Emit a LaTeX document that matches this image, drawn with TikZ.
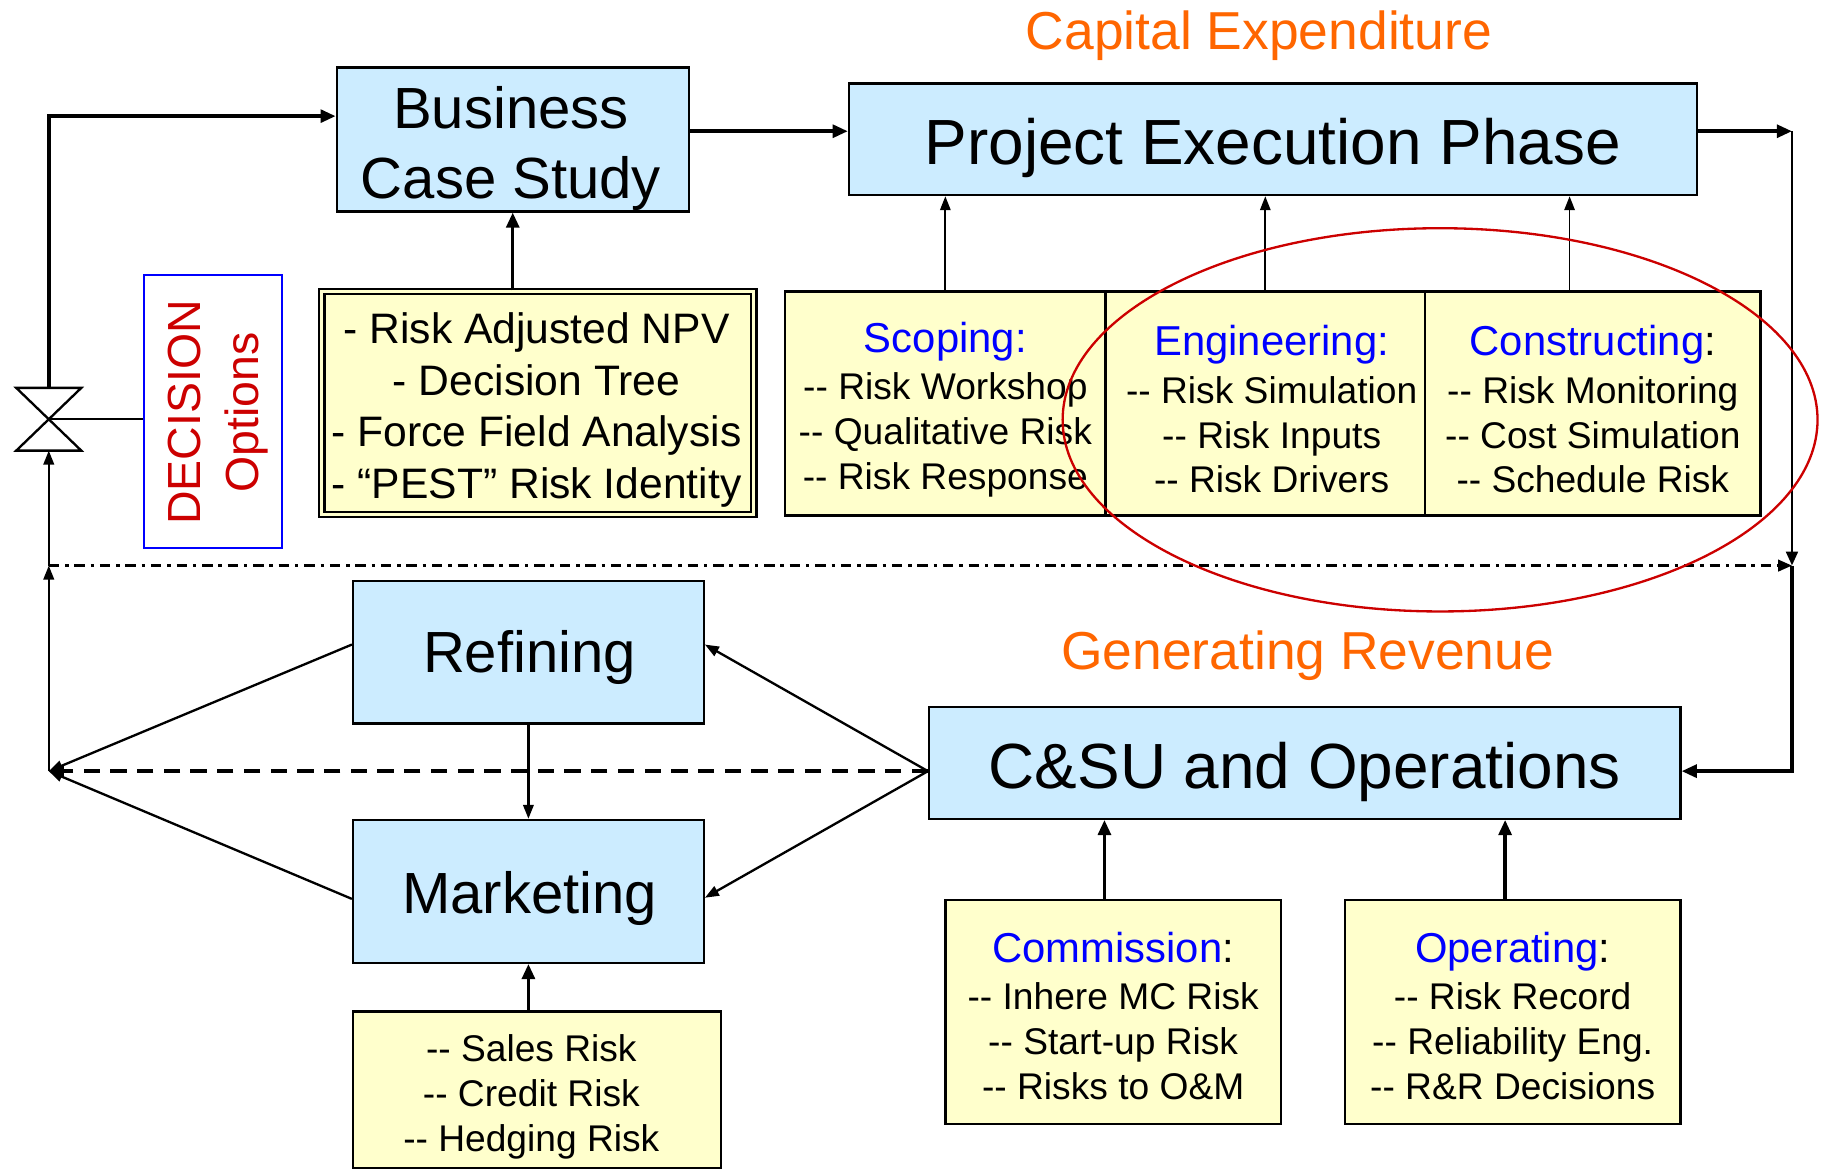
\documentclass[tikz,border=0pt]{standalone}
\usepackage{fontspec}
\setmainfont{Liberation Sans}
\usetikzlibrary{arrows.meta}
\definecolor{boxblue}{HTML}{CCECFF}
\definecolor{boxyellow}{HTML}{FFFFCC}
\definecolor{orng}{HTML}{FF6600}
\definecolor{hdrblue}{HTML}{0000FF}
\definecolor{dred}{HTML}{CC0000}
\newcommand\setfs[2]{\fontsize{#1pt}{#2pt}\selectfont}
\newcommand\mydd{-\kern0pt-}
\begin{document}
\begin{tikzpicture}[x=1pt,y=-1pt,
  bluebox/.style={draw=black, line width=2pt, fill=boxblue, inner sep=0pt},
  yelbox/.style={draw=black, line width=2pt, fill=boxyellow, inner sep=0pt},
  txt/.style={inner sep=0pt, align=center},
  thickarr/.style={line width=3pt, -{Triangle[length=13pt,width=11pt]}},
  medarr/.style={line width=2pt, -{Triangle[length=12pt,width=9pt]}},
  thinarr/.style={line width=1.5pt, -{Triangle[length=12pt,width=9pt]}},
  hdr/.style={text=orng, inner sep=0pt, font=\setfs{46}{52}},
]
\useasboundingbox (0,0) rectangle (1568,1009);
\fill[white] (0,0) rectangle (1568,1009);

% titles
\node[hdr] (capex) at (1084,31) {Capital Expenditure};
\node[hdr] (genrev) at (1126,565) {Generating Revenue};

% blue boxes
\node[bluebox, minimum width=303pt, minimum height=124pt] (bcs) at (441.5,120) {};
\node[txt, font=\setfs{50}{60}] (bcst) at (440,128) {Business\\Case Study};
\node[bluebox, minimum width=730pt, minimum height=96pt] (pep) at (1096,120) {};
\node[txt, font=\setfs{55}{66}] (pept) at (1096,127) {Project Execution Phase};
\node[bluebox, minimum width=302pt, minimum height=123pt] (ref) at (455,561.5) {};
\node[txt, font=\setfs{50}{60}] (reft) at (456,566.5) {Refining};
\node[bluebox, minimum width=302pt, minimum height=123pt] (mkt) at (455,767.5) {};
\node[txt, font=\setfs{50}{60}] (mktt) at (456,773.5) {Marketing};
\node[bluebox, minimum width=647pt, minimum height=96pt] (csu) at (1123.5,657) {};
\node[txt, font=\setfs{55}{60}] (csut) at (1123.5,665) {C\&SU and Operations};

% risk box (double border)
\node[draw=black, line width=1.8pt, double=boxyellow, double distance=3pt, fill=boxyellow, inner sep=0pt,
      minimum width=372pt, minimum height=192pt] (risk) at (463,347) {};
\node[txt, font=\setfs{36.7}{44.3}] (riskt) at (462,353)
  {- Risk Adjusted NPV\\- Decision Tree\\- Force Field Analysis\\- “PEST” Risk Identity};

% decision options
\node[draw=hdrblue, line width=1.8pt, minimum width=119pt, minimum height=235pt, inner sep=0pt] (dec) at (183.5,354.5) {};
\node[rotate=90, text=dred, txt, font=\setfs{40}{50}] (dectxt) at (188,355) {DECISION\\Options};

% yellow boxes
\node[yelbox, minimum width=276pt, minimum height=193pt] (scop) at (814,347.5) {};
\node[txt, font=\setfs{32}{38.5}] (scopt) at (814,352.5)
  {{\setfs{36}{38.5}\color{hdrblue}Scoping:}\\[2.5pt]\mydd{} Risk Workshop\\\mydd{} Qualitative Risk\\\mydd{} Risk Response};
\node[yelbox, minimum width=275pt, minimum height=193pt] (eng) at (1089.5,347.5) {};
\node[txt, font=\setfs{32}{38.5}] (engt) at (1095,352.5)
  {{\setfs{36}{38.5}\color{hdrblue}Engineering:}\\[2.5pt]\mydd{} Risk Simulation\\\mydd{} Risk Inputs\\\mydd{} Risk Drivers};
\node[yelbox, minimum width=289pt, minimum height=193pt] (cons) at (1371.5,347.5) {};
\node[txt, font=\setfs{32}{38.5}] (const) at (1371.5,352.5)
  {{\setfs{36}{38.5}{\color{hdrblue}Constructing}:}\\[2.5pt]\mydd{} Risk Monitoring\\\mydd{} Cost Simulation\\\mydd{} Schedule Risk};
\node[yelbox, minimum width=289pt, minimum height=193pt] (comm) at (958.5,871.5) {};
\node[txt, font=\setfs{32}{38.5}] (commt) at (958.5,874.5)
  {{\setfs{36}{38.5}{\color{hdrblue}Commission}:}\\[2.5pt]\mydd{} Inhere MC Risk\\\mydd{} Start-up Risk\\\mydd{} Risks to O\&M};
\node[yelbox, minimum width=289pt, minimum height=193pt] (op) at (1302.5,871.5) {};
\node[txt, font=\setfs{32}{38.5}] (opt) at (1302.5,874.5)
  {{\setfs{36}{38.5}{\color{hdrblue}Operating}:}\\[2.5pt]\mydd{} Risk Record\\\mydd{} Reliability Eng.\\\mydd{} R\&R Decisions};
\node[yelbox, minimum width=317pt, minimum height=135pt] (sales) at (462.5,938.5) {};
\node[txt, font=\setfs{32}{38.5}] (salest) at (457.5,944.5)
  {\mydd{} Sales Risk\\\mydd{} Credit Risk\\\mydd{} Hedging Risk};

% coordinates
\coordinate (tl) at (42,100);
\coordinate (vtop) at (42,334);
\coordinate (vmid) at (42,361);
\coordinate (vbot) at (42,388);
\coordinate (ld) at (42,487);
\coordinate (L) at (42,664);
\coordinate (tr) at (1543,113);
\coordinate (rd) at (1543,487);
\coordinate (br) at (1543,664);

% valve
\draw[line width=2pt, line join=miter] (14,334) -- (70,334) -- (14,388) -- (70,388) -- cycle;
\draw[line width=2pt] (vmid) -- (vmid -| dec.west);

% top loop
\draw[thickarr] (vtop) -- (tl) -- (tl -| bcs.west);
\draw[thickarr] ([yshift=7pt]bcs.east) -- ([yshift=7pt]pep.west);
\draw[thickarr] ([yshift=7pt]pep.east) -- (tr);
\draw[line width=2.5pt, -{Triangle[length=12pt,width=10pt]}] (tr) -- (rd);
\draw[thickarr] (rd) -- (br) -- (br -| csu.east);
\draw[thickarr] (bcs.south |- risk.north) -- (bcs.south);

% up arrows into PEP
\draw[thinarr] (scop.north) -- (scop.north |- pep.south);
\draw[thinarr] (eng.north) -- (eng.north |- pep.south);
\draw[thinarr] ([xshift=-20pt]cons.north) -- ([xshift=-20pt]cons.north |- pep.south);

% dash-dot divider
\draw[line width=2pt, dash pattern=on 9pt off 5pt on 3pt off 5pt, -{Triangle[length=12pt,width=10pt]}] (ld) -- (rd);

% left return line
\draw[medarr] (L) -- (ld);
\draw[medarr] (ld) -- (vbot);

% revenue network
\draw[line width=3.2pt, dash pattern=on 14pt off 9pt, -{Triangle[length=13pt,width=11pt]}] (br -| csu.west) -- (L);
\draw[medarr] (br -| csu.west) -- ([yshift=6.5pt]ref.east);
\draw[medarr] (br -| csu.west) -- ([yshift=-5.5pt]mkt.east);
\draw[medarr] ([yshift=6.5pt]ref.west) -- (L);
\draw[medarr] ([yshift=-6.5pt]mkt.west) -- (L);
\draw[medarr] (ref.south) -- (mkt.north);
\draw[thickarr] (mkt.south |- sales.north) -- (mkt.south);
\draw[thickarr] ([xshift=-7.5pt]comm.north) -- ([xshift=-7.5pt]comm.north |- csu.south);
\draw[thickarr] ([xshift=-6.5pt]op.north) -- ([xshift=-6.5pt]op.north |- csu.south);

% red ellipse
\draw[dred, line width=2pt] (1240,361.5) ellipse [x radius=325pt, y radius=165pt];
\end{tikzpicture}
\end{document}
